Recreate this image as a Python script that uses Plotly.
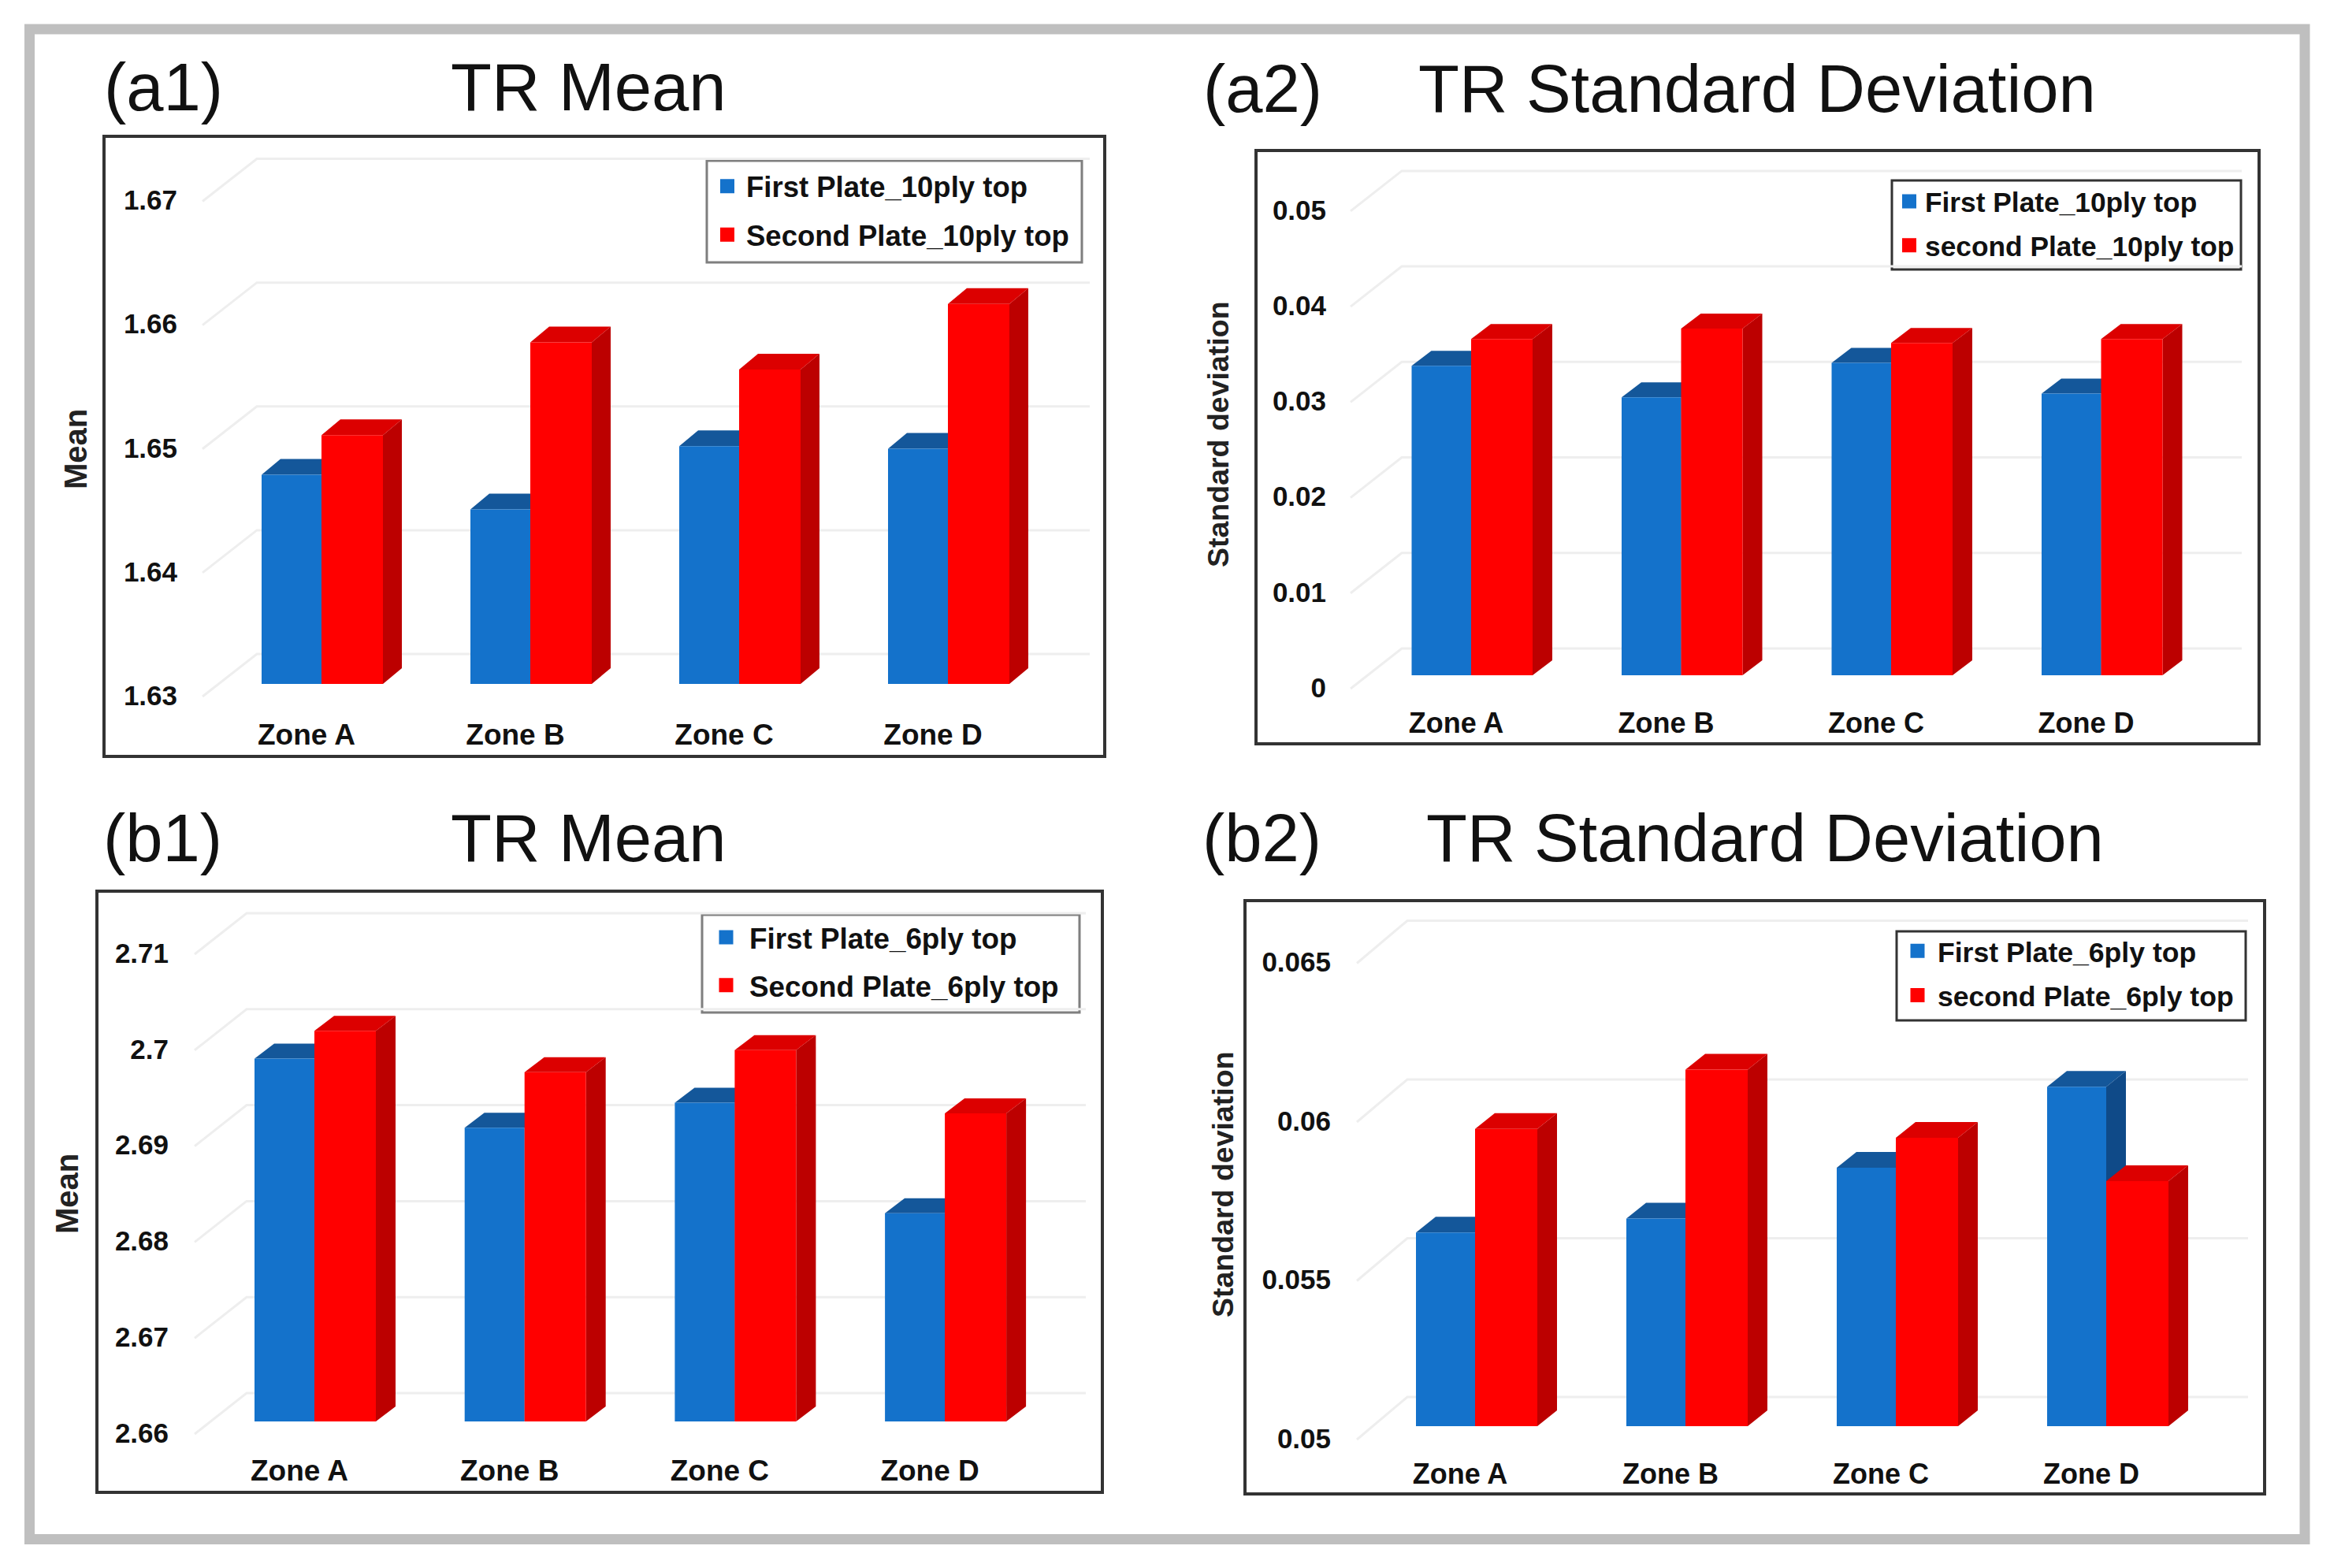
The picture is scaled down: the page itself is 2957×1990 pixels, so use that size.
import plotly.graph_objects as go

W, H = 2957, 1990
FONT = "Liberation Sans"
BLUE, BLUE_TOP, BLUE_SIDE = "#1472CB", "#14579A", "#0F4A88"
RED, RED_TOP, RED_SIDE = "#FF0000", "#DC0000", "#BC0000"
GRID = "#EEEEEE"

zones = ["Zone A", "Zone B", "Zone C", "Zone D"]

a1_first = [1.6469, 1.6441, 1.6492, 1.6490]
a1_second = [1.6501, 1.6576, 1.6554, 1.6607]
a1_ticks = [1.63, 1.64, 1.65, 1.66, 1.67]
a1_ticktext = ["1.63", "1.64", "1.65", "1.66", "1.67"]

a2_first = [0.0324, 0.0291, 0.0327, 0.0295]
a2_second = [0.0352, 0.0363, 0.0348, 0.0352]
a2_ticks = [0, 0.01, 0.02, 0.03, 0.04, 0.05]
a2_ticktext = ["0", "0.01", "0.02", "0.03", "0.04", "0.05"]

b1_first = [2.6978, 2.6906, 2.6932, 2.6817]
b1_second = [2.7007, 2.6964, 2.6987, 2.6921]
b1_ticks = [2.66, 2.67, 2.68, 2.69, 2.70, 2.71]
b1_ticktext = ["2.66", "2.67", "2.68", "2.69", "2.7", "2.71"]

b2_first = [0.0561, 0.05654, 0.05814, 0.06069]
b2_second = [0.05936, 0.06123, 0.05908, 0.05772]
b2_ticks = [0.05, 0.055, 0.06, 0.065]
b2_ticktext = ["0.05", "0.055", "0.06", "0.065"]

panels = [
    dict(first=a1_first, second=a1_second, ticks=a1_ticks, ticktext=a1_ticktext,
         names=("First Plate_10ply top", "Second Plate_10ply top"),
         frame=(132, 173, 1402, 960), base=868, ppu=15711, b0=408, sp=265,
         wb=76, wr=78, dx=24, dy=20, off=16, fx=257, bx=326, bdy=54, rx=1383,
         lab=225, ytitle="Mean", ysize=40, ytx=96, yty=570, zsize=37, zgap=39,
         leg=(899, 206), legbox=(897, 204, 1373, 333), gap=11, legc="#7F7F7F", lsize=36.5, iw=38,
         tag="(a1)", tagx=130, tagy=110, title="TR Mean", tx=570, ty=110),
    dict(first=a2_first, second=a2_second, ticks=a2_ticks, ticktext=a2_ticktext,
         names=("First Plate_10ply top", "second Plate_10ply top"),
         frame=(1594, 191, 2867, 944), base=857, ppu=12122, b0=1867, sp=266.5,
         wb=75.5, wr=78, dx=25, dy=19, off=17, fx=1714, bx=1779, bdy=51, rx=2845,
         lab=1683, ytitle="Standard deviation", ysize=37.5, ytx=1546, yty=551, zsize=36, zgap=36,
         leg=(2403, 226), legbox=(2401, 229, 2844, 342), gap=7, legc="#333333", lsize=35.3, iw=30,
         tag="(a2)", tagx=1525, tagy=112, title="TR Standard Deviation", tx=1798, ty=112),
    dict(first=b1_first, second=b1_second, ticks=b1_ticks, ticktext=b1_ticktext,
         names=("First Plate_6ply top", "Second Plate_6ply top"),
         frame=(123, 1131, 1399, 1894), base=1804, ppu=12180, b0=399, sp=266.7,
         wb=76, wr=78, dx=25, dy=19, off=16, fx=247, bx=313, bdy=52, rx=1378,
         lab=214, ytitle="Mean", ysize=40, ytx=85, yty=1515, zsize=37, zgap=37,
         leg=(892, 1159), legbox=(891, 1161, 1370, 1285), gap=10, legc="#7F7F7F", lsize=36.8, iw=49,
         tag="(b1)", tagx=129, tagy=1063, title="TR Mean", tx=570, ty=1063),
    dict(first=b2_first, second=b2_second, ticks=b2_ticks, ticktext=b2_ticktext,
         names=("First Plate_6ply top", "second Plate_6ply top"),
         frame=(1580, 1143, 2874, 1896), base=1810, ppu=40300, b0=1872, sp=267,
         wb=75, wr=79, dx=25, dy=20, off=17, fx=1722, bx=1786, bdy=54, rx=2853,
         lab=1689, ytitle="Standard deviation", ysize=37.5, ytx=1552, yty=1503, zsize=36, zgap=36,
         leg=(2408, 1177), legbox=(2407, 1182, 2850, 1295), gap=7, legc="#333333", lsize=35.6, iw=41,
         tag="(b2)", tagx=1524, tagy=1063, title="TR Standard Deviation", tx=1808, ty=1063),
]


def poly(points, xa, ya, color):
    path = "M " + " L ".join(f"{x:.5f} {y:.6f}" for x, y in points) + " Z"
    return dict(type="path", path=path, xref=xa, yref=ya, fillcolor=color,
                line=dict(width=0), layer="below")


fig = go.Figure()
shapes, annotations, layout = [], [], {}

# outer grey border
shapes.append(dict(type="rect", xref="paper", yref="paper",
                   x0=37.5 / W, x1=2925 / W, y0=1 - 1953.5 / H, y1=1 - 37 / H,
                   line=dict(color="#BFBFBF", width=13), layer="below"))

for k, p in enumerate(panels):
    n = "" if k == 0 else str(k + 1)
    xa, ya = "x" + n, "y" + n
    L, T, R, B = p["frame"]
    base, ppu, b0, sp = p["base"], p["ppu"], p["b0"], p["sp"]
    vmin = p["ticks"][0]
    plot_left = p["lab"] + 1
    plot_bottom = base + p["zgap"]

    def X(px):
        return (px - b0) / sp

    def Y(px):
        return vmin + (base - px) / ppu

    xr = [X(plot_left), X(R)]
    yr = [Y(plot_bottom), Y(T)]
    dx, dv = p["dx"] / sp, p["dy"] / ppu
    wb, wr = p["wb"] / sp, p["wr"] / sp
    off = p["off"] / ppu
    bdv = p["bdy"] / ppu
    fx, bx, rx = X(p["fx"]), X(p["bx"]), X(p["rx"])

    # frame
    shapes.append(dict(type="rect", xref="paper", yref="paper",
                       x0=L / W, x1=R / W, y0=1 - B / H, y1=1 - T / H,
                       line=dict(color="#333333", width=4), layer="below"))
    # gridlines + depth lines
    for t in p["ticks"]:
        path = f"M {fx:.5f} {t - off:.6f} L {bx:.5f} {t - off + bdv:.6f} L {rx:.5f} {t - off + bdv:.6f}"
        shapes.append(dict(type="path", path=path, xref=xa, yref=ya,
                           line=dict(color=GRID, width=3), layer="below"))
    # depth faces, blue first so that the red ones lie over them
    for vals, left, right, top_c, side_c in (
        (p["first"], -wb, 0, BLUE_TOP, BLUE_SIDE),
        (p["second"], 0, wr, RED_TOP, RED_SIDE),
    ):
        for i, v in enumerate(vals):
            xl, xr_b = i + left, i + right
            shapes.append(poly([(xr_b, vmin), (xr_b + dx, vmin + dv), (xr_b + dx, v + dv), (xr_b, v)], xa, ya, side_c))
            shapes.append(poly([(xl, v), (xl + dx, v + dv), (xr_b + dx, v + dv), (xr_b, v)], xa, ya, top_c))
    # legend box
    bx0, by0, bx1, by1 = p["legbox"]
    shapes.append(dict(type="rect", xref="paper", yref="paper",
                       x0=bx0 / W, x1=bx1 / W, y0=1 - by1 / H, y1=1 - by0 / H,
                       fillcolor="#FFFFFF", line=dict(color=p["legc"], width=3), layer="below"))

    legname = "legend" + n
    fig.add_trace(go.Bar(x=list(range(4)), y=[v - vmin for v in p["first"]], base=vmin,
                         width=wb, offset=-wb, marker=dict(color=BLUE, line=dict(width=0)),
                         name=p["names"][0], showlegend=False, legendgroup=f"{k}a",
                         xaxis=xa, yaxis=ya))
    fig.add_trace(go.Bar(x=list(range(4)), y=[v - vmin for v in p["second"]], base=vmin,
                         width=wr, offset=0, marker=dict(color=RED, line=dict(width=0)),
                         name=p["names"][1], showlegend=False, legendgroup=f"{k}b",
                         xaxis=xa, yaxis=ya))
    # legend keys: square swatches the size of the reference's
    for name, color, grp in ((p["names"][0], BLUE, f"{k}a"), (p["names"][1], RED, f"{k}b")):
        fig.add_trace(go.Scatter(x=[None], y=[None], mode="markers", name=name, legend=legname,
                                 legendgroup=grp, xaxis=xa, yaxis=ya, hoverinfo="skip",
                                 marker=dict(symbol="square", size=16, color=color, line=dict(width=2, color=color))))

    layout["xaxis" + n] = dict(
        domain=[plot_left / W, R / W], range=xr, anchor=ya, showgrid=False, zeroline=False,
        showline=False, ticks="", tickmode="array", tickvals=[i - 19 / sp for i in range(4)],
        ticktext=zones, tickangle=0, tickfont=dict(family=FONT, size=p["zsize"], color="#111111", weight=700))
    layout["yaxis" + n] = dict(
        domain=[1 - plot_bottom / H, 1 - T / H], range=yr, anchor=xa, showgrid=False, zeroline=False,
        showline=False, ticks="", tickmode="array", tickvals=[t - off + 1.5 / ppu for t in p["ticks"]],
        ticktext=p["ticktext"], tickfont=dict(family=FONT, size=35, color="#111111", weight=700))

    lx, ly = p["leg"]
    layout[legname] = dict(
        x=lx / W, y=1 - ly / H, xanchor="left", yanchor="top", bgcolor="rgba(0,0,0,0)",
        borderwidth=0, tracegroupgap=p["gap"], itemwidth=p["iw"],
        font=dict(family=FONT, size=p["lsize"], color="#111111", weight=700), traceorder="grouped",
        itemclick=False, itemdoubleclick=False)

    annotations.append(dict(text=p["ytitle"], x=p["ytx"] / W, y=1 - p["yty"] / H, xref="paper", yref="paper",
                            xanchor="center", yanchor="middle", showarrow=False, textangle=-90,
                            font=dict(family=FONT, size=p["ysize"], color="#222222", weight=700)))
    annotations.append(dict(text=p["tag"], x=p["tagx"] / W, y=1 - p["tagy"] / H, xref="paper", yref="paper",
                            xanchor="left", yanchor="middle", showarrow=False,
                            font=dict(family=FONT, size=85, color="#111111")))
    annotations.append(dict(text=p["title"], x=p["tx"] / W, y=1 - p["ty"] / H, xref="paper", yref="paper",
                            xanchor="left", yanchor="middle", showarrow=False,
                            font=dict(family=FONT, size=85, color="#111111")))

fig.update_layout(width=W, height=H, margin=dict(l=0, r=0, t=0, b=0, pad=0, autoexpand=False),
                  paper_bgcolor="#FFFFFF", plot_bgcolor="rgba(0,0,0,0)", barmode="overlay",
                  shapes=shapes, annotations=annotations, showlegend=True, **layout)
fig.write_html("out.html", post_script="document.body.style.margin='0';",
               config=dict(displayModeBar=False))
